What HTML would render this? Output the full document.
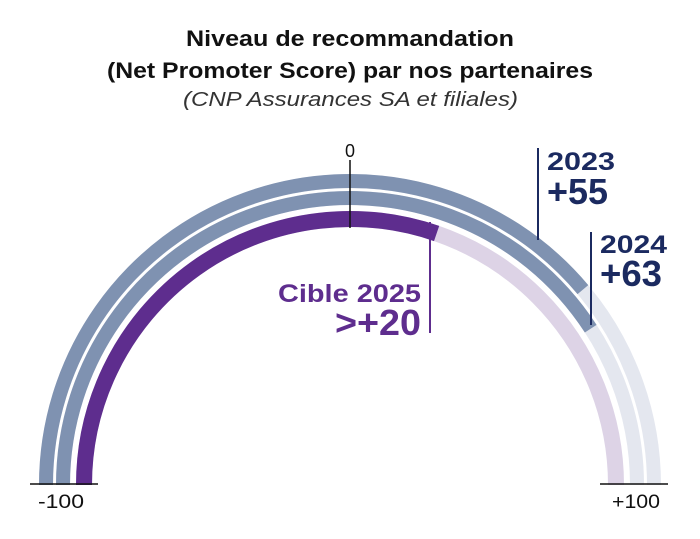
<!DOCTYPE html>
<html><head><style>
body{margin:0;background:#fff;width:700px;height:534px;overflow:hidden}
svg text{font-family:"Liberation Sans",sans-serif}
</style></head><body>
<svg width="700" height="534" viewBox="0 0 700 534">
<text x="186" y="46" textLength="328" lengthAdjust="spacingAndGlyphs" font-size="22" font-weight="bold" fill="#111">Niveau de recommandation</text>
<text x="107" y="78" textLength="486" lengthAdjust="spacingAndGlyphs" font-size="22" font-weight="bold" fill="#111">(Net Promoter Score) par nos partenaires</text>
<text x="183" y="106" textLength="335" lengthAdjust="spacingAndGlyphs" font-size="20" font-style="italic" fill="#333">(CNP Assurances SA et filiales)</text>
<g fill="none" stroke-width="14">
<path d="M46 485 A304 304 0 0 1 654 485" stroke="#e4e7ef"/>
<path d="M46 485 A304 304 0 0 1 582.9 289.6" stroke="#7f92b1"/>
<path d="M63 485 A287 287 0 0 1 637 485" stroke="#e4e7ef"/>
<path d="M63 485 A287 287 0 0 1 590.7 328.7" stroke="#7f92b1"/>
<path d="M84 485 A266 266 0 0 1 616 485" stroke="#ddd3e6" stroke-width="16"/>
<path d="M84 485 A266 266 0 0 1 436.6 233.5" stroke="#5e2d8e" stroke-width="16"/>
</g>
<line x1="30" y1="484" x2="98" y2="484" stroke="#111" stroke-width="1.5"/>
<line x1="600" y1="484" x2="668" y2="484" stroke="#111" stroke-width="1.5"/>
<line x1="350" y1="160" x2="350" y2="228" stroke="#111" stroke-width="1.5"/>
<text x="350" y="157" text-anchor="middle" font-size="18" fill="#111">0</text>
<text x="38" y="508" textLength="46" lengthAdjust="spacingAndGlyphs" font-size="19" fill="#111">-100</text>
<text x="612" y="508" textLength="48" lengthAdjust="spacingAndGlyphs" font-size="19" fill="#111">+100</text>
<line x1="538" y1="148" x2="538" y2="240" stroke="#1b2a60" stroke-width="2"/>
<line x1="591" y1="232" x2="591" y2="325" stroke="#1b2a60" stroke-width="2"/>
<line x1="430" y1="222" x2="430" y2="333" stroke="#5e2d8e" stroke-width="2"/>
<text x="547" y="170" textLength="68" lengthAdjust="spacingAndGlyphs" font-size="25" font-weight="bold" fill="#1b2a60">2023</text>
<text x="547" y="204" textLength="61" lengthAdjust="spacingAndGlyphs" font-size="36" font-weight="bold" fill="#1b2a60">+55</text>
<text x="600" y="253" textLength="67" lengthAdjust="spacingAndGlyphs" font-size="25" font-weight="bold" fill="#1b2a60">2024</text>
<text x="600" y="286" textLength="62" lengthAdjust="spacingAndGlyphs" font-size="36" font-weight="bold" fill="#1b2a60">+63</text>
<text x="278" y="302" textLength="143" lengthAdjust="spacingAndGlyphs" font-size="25" font-weight="bold" fill="#5e2d8e">Cible 2025</text>
<text x="335" y="335" textLength="86" lengthAdjust="spacingAndGlyphs" font-size="36" font-weight="bold" fill="#5e2d8e">&gt;+20</text>
</svg>
</body></html>
